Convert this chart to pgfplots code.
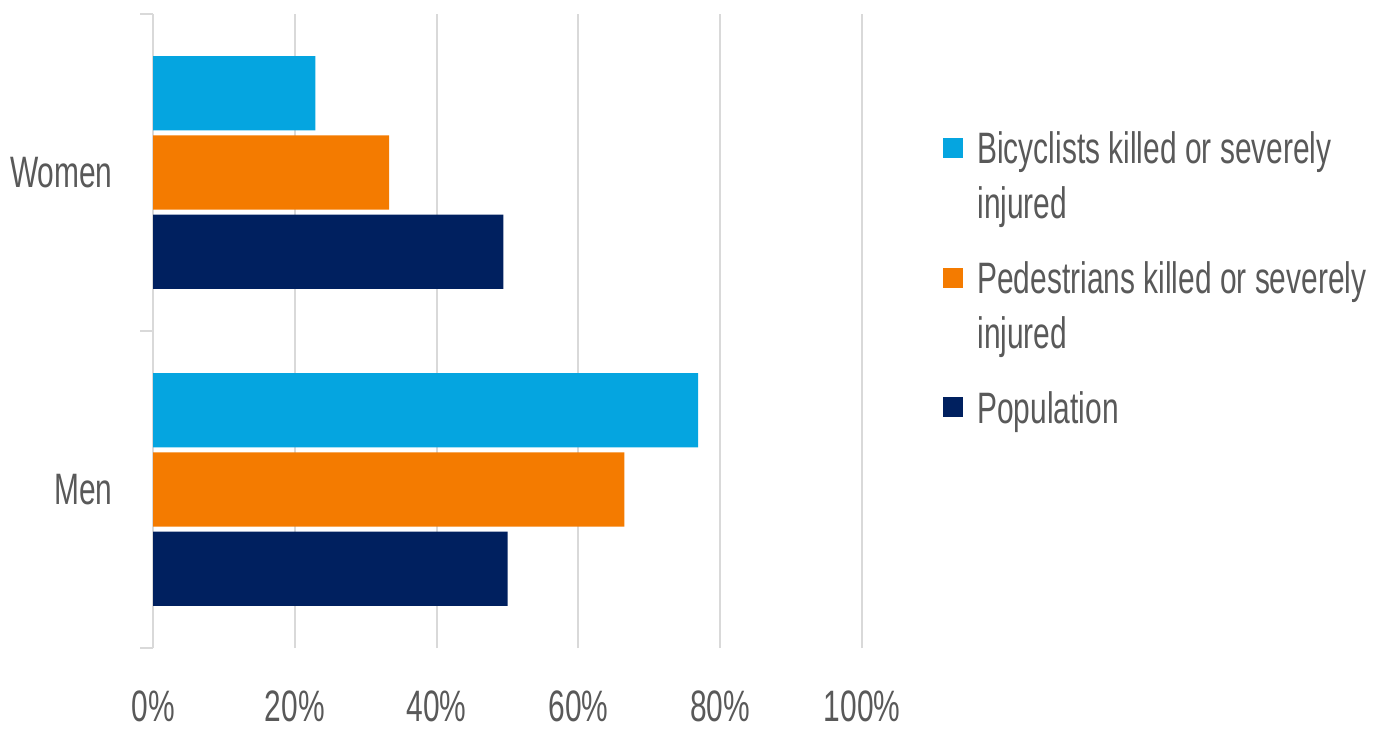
\documentclass[border=0pt]{standalone}
\usepackage{pgfplots}
\pgfplotsset{compat=1.18}
\usepackage{fontspec}
\setmainfont{Liberation Sans}[FakeStretch=0.68]
\definecolor{cblue}{HTML}{05A5E0}
\definecolor{corange}{HTML}{F47B00}
\definecolor{cnavy}{HTML}{00205F}
\definecolor{gridc}{HTML}{D9D9D9}
\definecolor{textc}{HTML}{595959}
\newcommand\lfont{\fontsize{22pt}{27.5pt}\selectfont}
\begin{document}
\begin{tikzpicture}
\begin{axis}[
  at={(0pt,0pt)}, anchor=south west,
  scale only axis, width=354.5pt, height=317pt,
  xbar, bar width=0.234,
  xmin=0, xmax=100, ymin=-0.5, ymax=1.5,
  axis y line*=left, axis x line*=bottom,
  x axis line style={draw=none},
  y axis line style={draw=gridc, line width=1pt},
  xtick={0,20,40,60,80,100},
  xticklabels={0\%,20\%,40\%,60\%,80\%,100\%},
  ytick={0,1}, yticklabels={Men,Women},
  minor ytick={-0.5,0.5,1.5},
  tick align=outside,
  major tick length=0pt, minor tick length=6.5pt,
  minor tick style={draw=gridc, line width=1pt},
  xmajorgrids, grid style={draw=gridc, line width=1pt},
  ticklabel style={font=\lfont, text=textc},
  xticklabel style={anchor=base, yshift=-36.8pt},
  yticklabel style={anchor=east, inner sep=0pt, xshift=-20pt},
  legend cell align=left,
  legend style={at={(1.1142,0.8181)}, anchor=north west, draw=none, fill=none,
    inner sep=0pt, row sep=18pt,
    nodes={inner sep=1pt, text=textc, font=\lfont},
    cells={align=left}},
]
\addplot[fill=cblue, draw=none, bar shift=0.25,
  legend image code/.code={\fill[cblue] (0pt,9.5pt) rectangle (10pt,19.5pt); \path (16pt,0pt);}]
  coordinates {(76.9,0) (22.9,1)};
\addlegendentry{Bicyclists killed or severely\\injured}
\addplot[fill=corange, draw=none, bar shift=0,
  legend image code/.code={\fill[corange] (0pt,9.5pt) rectangle (10pt,19.5pt); \path (16pt,0pt);}]
  coordinates {(66.5,0) (33.3,1)};
\addlegendentry{Pedestrians killed or severely\\injured}
\addplot[fill=cnavy, draw=none, bar shift=-0.25,
  legend image code/.code={\fill[cnavy] (0pt,-4pt) rectangle (10pt,6pt); \path (16pt,0pt);}]
  coordinates {(50.0,0) (49.4,1)};
\addlegendentry{Population}
\end{axis}
\pgfresetboundingbox
\path[use as bounding box] (-76.5pt,-40pt) rectangle (613.5pt,324pt);
\end{tikzpicture}
\end{document}
